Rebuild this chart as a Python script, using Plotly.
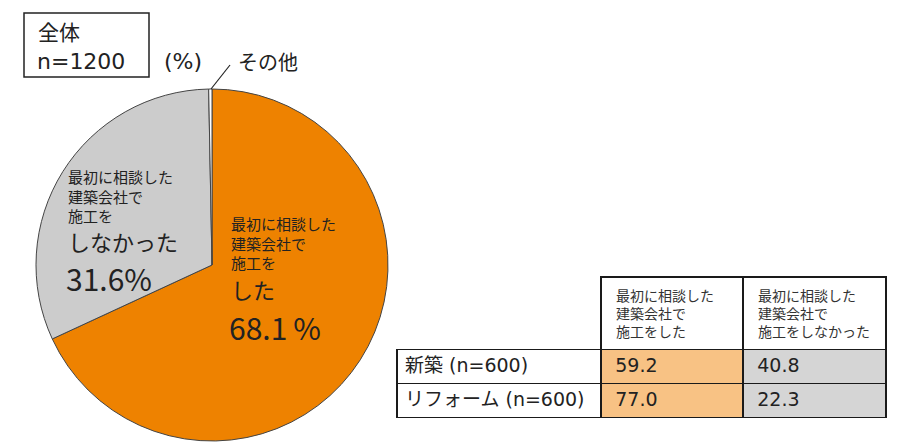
import plotly.graph_objects as go

W, H = 910, 447

# ---- data ----
pie_labels = ["最初に相談した建築会社で施工をした", "最初に相談した建築会社で施工をしなかった", "その他"]
pie_values = [68.1, 31.6, 0.3]
pie_colors = ["#EE8200", "#CCCCCC", "#FFFFFF"]

table_header = ["", "最初に相談した<br>建築会社で<br>施工をした", "最初に相談した<br>建築会社で<br>施工をしなかった"]
row_labels = ["新築 (n=600)", "リフォーム (n=600)"]
did_values = [59.2, 77.0]
didnot_values = [40.8, 22.3]

JP = "Noto Sans CJK JP"
NUM = "DejaVu Sans, Noto Sans CJK JP"
TXT = "#222222"

def px(x):
    return x / W

def py(y):
    return 1 - y / H

fig = go.Figure()

fig.add_trace(go.Pie(
    labels=pie_labels, values=pie_values, sort=False, direction="clockwise",
    rotation=0, textinfo="none", hoverinfo="label+value",
    marker=dict(colors=pie_colors, line=dict(color="#444444", width=1)),
    domain=dict(x=[px(36), px(388)], y=[py(441), py(89)]),
    showlegend=False,
))

pad_h = "\u2002"
pad_c = "\u2004"
fig.add_trace(go.Table(
    domain=dict(x=[px(397), px(886)], y=[py(418), py(277)]),
    columnwidth=[204, 142, 143],
    header=dict(
        values=[h if not h else pad_h + h.replace("<br>", "<br>" + pad_h) for h in table_header],
        align="left",
        height=72,
        fill_color="white",
        line=dict(color=["rgba(0,0,0,0)", "#1a1a1a", "#1a1a1a"], width=1.6),
        font=dict(family=JP, size=14, color="#333333"),
    ),
    cells=dict(
        values=[row_labels,
                [pad_c + f"{v:.1f}" for v in did_values],
                [pad_c + f"{v:.1f}" for v in didnot_values]],
        align="left",
        height=34,
        fill_color=[["white"] * 2, ["#F8C284"] * 2, ["#D5D5D5"] * 2],
        line=dict(color="#1a1a1a", width=1.6),
        font=dict(family=NUM, size=19, color=TXT),
    ),
))

ann = []

def add_text(x, y, t, size, family=JP):
    ann.append(dict(x=px(x), y=py(y), xref="paper", yref="paper", text=t,
                    showarrow=False, xanchor="left", yanchor="middle", align="left",
                    font=dict(family=family, size=size, color=TXT)))

small_lines = "<br>".join(["最初に相談した", "建築会社で", "施工を"])

# gray slice label
add_text(66, 196, small_lines, 15)
add_text(66, 241, "しなかった", 22)
add_text(64, 278, f"{pie_values[1]:.1f}%", 30)

# orange slice label
add_text(229, 243, small_lines, 15)
add_text(229, 289, "した", 22)
add_text(227, 327, f"{pie_values[0]:.1f}\u2009%", 30)

# box text
add_text(36, 31, "全体", 21)
add_text(35, 62, "n=1200", 22, NUM)
add_text(162, 62, "(%)", 22, NUM)
add_text(236, 61, pie_labels[2], 20)

fig.update_layout(
    width=W, height=H, margin=dict(l=0, r=0, t=0, b=0),
    paper_bgcolor="white", plot_bgcolor="white",
    annotations=ann,
    shapes=[
        dict(type="rect", xref="paper", yref="paper", x0=px(24), x1=px(149), y0=py(77), y1=py(13),
             line=dict(color="#222222", width=1.5)),
        dict(type="line", xref="paper", yref="paper", x0=px(211), y0=py(89), x1=px(230), y1=py(65),
             line=dict(color="#222222", width=1.2)),
    ],
)

fig.write_html("out.html")
